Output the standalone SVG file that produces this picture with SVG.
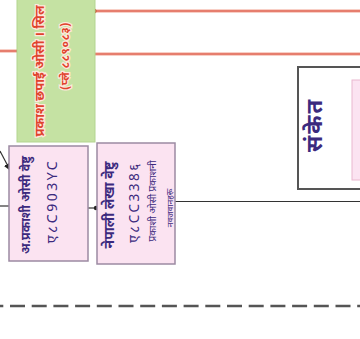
<svg xmlns="http://www.w3.org/2000/svg" width="360" height="339" viewBox="0 0 360 339">
<style>
.pink{fill:#fbe3f1;stroke:#9c8aa2;stroke-width:1.5}
.t{font-family:"Noto Sans","DejaVu Sans","Liberation Sans",sans-serif;text-anchor:middle;dominant-baseline:central}
.pt{fill:#3b2a7e}
.rt{fill:#e0432e;stroke:#fde9dc;stroke-width:2.5;paint-order:stroke;font-weight:bold}
.halo{stroke:#f8cfc6;stroke-width:4;fill:none}
.red{stroke:#e06452;stroke-width:1.5;fill:none}
.blk{stroke:#333;stroke-width:1.2;fill:none}
</style>
<defs>
<marker id="ah" viewBox="0 0 10 10" refX="9" refY="5" markerWidth="6" markerHeight="6" orient="auto"><path d="M0,0L10,5L0,10z" fill="#222"/></marker>
</defs>
<rect width="360" height="339" fill="#fff"/>
<g id="connectors">
<path class="halo" d="M95,11H360M95,54H360M0,51H19"/>
<path class="red" d="M95,11H360M95,54H360M0,51H19"/>
<circle cx="94" cy="11" r="2.5" fill="#c0502a"/>
<circle cx="19" cy="51" r="2.5" fill="#c0502a"/>
<path class="blk" d="M0,151L10,170" marker-end="url(#ah)"/>
<path class="blk" d="M0,206H9"/>
<path class="blk" d="M88,208H96"/>
<circle cx="96" cy="208" r="2.2" fill="#222"/>
<path class="blk" d="M175,201.5H360" stroke-width="1.6"/>
<path d="M0,306H360" stroke="#555" stroke-width="2.6" stroke-dasharray="15 6.7" stroke-dashoffset="11.7"/>
</g>
<g id="green">
<rect x="17" y="-5" width="78" height="147" fill="#c5e2a3" stroke="#b3d590" stroke-width="1"/>
<text class="t rt" font-size="13" transform="translate(39,71) rotate(-90)">प्रकाश छपाई ओसी । सिल</text>
<text class="t rt" font-size="11.5" letter-spacing="0.5" transform="translate(64,56) rotate(-90)">(प्ले ८८९०८३)</text>
</g>
<g id="box1">
<rect class="pink" x="9" y="146" width="79" height="115"/>
<text class="t pt" font-size="12.5" font-weight="bold" transform="translate(25,205) rotate(-90)">अ.प्रकाशी ओसी वेष्टु</text>
<text class="t pt" font-size="14" letter-spacing="2.5" transform="translate(51,201) rotate(-90)">ए८C903YC</text>
</g>
<g id="box2">
<rect class="pink" x="97" y="143" width="78" height="121"/>
<text class="t pt" font-size="14" font-weight="bold" transform="translate(108,205) rotate(-90)">नेपाली लेखा वेष्टु</text>
<text class="t pt" font-size="13.5" letter-spacing="2.5" transform="translate(134,202) rotate(-90)">ए८CC338६</text>
<text class="t pt" font-size="10" transform="translate(152,201) rotate(-90)">प्रकाशी ओसी प्रकाशनी</text>
<text class="t pt" font-size="8.5" transform="translate(169,208) rotate(-90)">नवजवानहरू</text>
</g>
<g id="legend">
<rect x="298" y="67" width="70" height="122" fill="#fff" stroke="#555" stroke-width="2"/>
<rect x="352" y="80" width="12" height="100" fill="#fbe3f1" stroke="#eab8cf" stroke-width="1"/>
<text class="t pt" font-size="22" font-weight="bold" letter-spacing="2" transform="translate(313,125) rotate(-90)">संकेत</text>
</g>
</svg>
